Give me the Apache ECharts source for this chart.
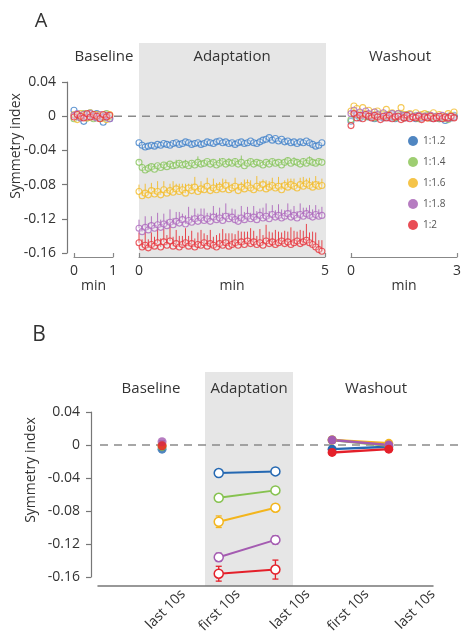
<!DOCTYPE html>
<html>
<head>
<meta charset="utf-8">
<script src="https://cdn.jsdelivr.net/npm/echarts@6/dist/echarts.min.js"></script>
<style>
  html, body { margin: 0; padding: 0; background: #fff; }
  #chart { width: 464px; height: 639px; }
</style>
</head>
<body>
<div id="chart"></div>
<script>
// ---- data ----
var ratioNames = ['1:1.2', '1:1.4', '1:1.6', '1:1.8', '1:2'];
var sampleSec = 5; // one point every 5 s

// panel A, baseline (last minute)
var blueBase = [0.007,0.001,-0.002,-0.006,0.002,0.004,-0.001,0.003,-0.002,-0.007,0.001,-0.003];
var greenBase = [-0.003,0.002,-0.001,0.003,-0.002,0.001,-0.003,0.002,0.000,-0.002,0.003,-0.001];
var yellowBase = [0.002,-0.004,0.003,0.000,-0.002,0.004,-0.001,0.002,-0.003,0.001,-0.004,0.002];
var purpleBase = [0.001,0.003,-0.002,0.002,-0.001,0.003,0.000,-0.002,0.002,-0.001,0.001,-0.003];
var redBase = [-0.001,0.002,0.000,-0.002,0.003,-0.001,0.002,0.000,-0.003,0.002,-0.001,0.001];

// panel A, adaptation (5 min)
var blueAdapt = [
  -0.031,-0.034,-0.036,-0.035,-0.034,-0.035,-0.033,-0.034,-0.032,-0.033,
  -0.034,-0.032,-0.031,-0.033,-0.032,-0.030,-0.031,-0.033,-0.032,-0.031,
  -0.033,-0.032,-0.030,-0.031,-0.032,-0.030,-0.029,-0.031,-0.030,-0.032,
  -0.031,-0.033,-0.031,-0.030,-0.032,-0.031,-0.029,-0.031,-0.032,-0.030,
  -0.028,-0.027,-0.025,-0.028,-0.026,-0.029,-0.027,-0.030,-0.029,-0.031,
  -0.030,-0.032,-0.030,-0.031,-0.029,-0.031,-0.033,-0.035,-0.034,-0.031];
var greenAdapt = [
  -0.054,-0.060,-0.063,-0.061,-0.059,-0.062,-0.058,-0.060,-0.057,-0.059,
  -0.056,-0.058,-0.057,-0.055,-0.057,-0.056,-0.058,-0.055,-0.057,-0.054,
  -0.056,-0.055,-0.053,-0.056,-0.054,-0.057,-0.055,-0.053,-0.056,-0.054,
  -0.055,-0.053,-0.056,-0.054,-0.058,-0.055,-0.053,-0.056,-0.054,-0.055,
  -0.057,-0.054,-0.056,-0.053,-0.055,-0.054,-0.057,-0.054,-0.052,-0.055,
  -0.053,-0.054,-0.056,-0.053,-0.055,-0.052,-0.054,-0.055,-0.053,-0.054];
var yellowAdapt = [
  -0.088,-0.093,-0.090,-0.092,-0.087,-0.091,-0.088,-0.092,-0.086,-0.090,
  -0.087,-0.089,-0.085,-0.088,-0.086,-0.090,-0.084,-0.087,-0.083,-0.088,
  -0.085,-0.086,-0.082,-0.087,-0.084,-0.086,-0.083,-0.085,-0.081,-0.086,
  -0.084,-0.082,-0.087,-0.083,-0.085,-0.081,-0.084,-0.086,-0.082,-0.084,
  -0.080,-0.085,-0.083,-0.081,-0.084,-0.082,-0.086,-0.081,-0.083,-0.080,
  -0.082,-0.084,-0.080,-0.082,-0.079,-0.081,-0.083,-0.080,-0.082,-0.081];
var purpleAdapt = [
  -0.131,-0.135,-0.130,-0.133,-0.128,-0.131,-0.127,-0.130,-0.126,-0.128,
  -0.124,-0.127,-0.123,-0.125,-0.121,-0.126,-0.122,-0.124,-0.120,-0.123,
  -0.119,-0.122,-0.120,-0.123,-0.118,-0.121,-0.119,-0.122,-0.117,-0.120,
  -0.118,-0.121,-0.123,-0.119,-0.121,-0.117,-0.120,-0.118,-0.121,-0.116,
  -0.119,-0.117,-0.120,-0.115,-0.118,-0.116,-0.119,-0.117,-0.114,-0.118,
  -0.116,-0.119,-0.115,-0.117,-0.114,-0.116,-0.118,-0.115,-0.117,-0.116];
var redAdapt = [
  -0.148,-0.153,-0.151,-0.154,-0.150,-0.152,-0.148,-0.153,-0.147,-0.151,
  -0.146,-0.152,-0.149,-0.153,-0.150,-0.148,-0.152,-0.149,-0.153,-0.150,
  -0.151,-0.148,-0.152,-0.149,-0.151,-0.153,-0.149,-0.151,-0.148,-0.152,
  -0.150,-0.148,-0.151,-0.147,-0.150,-0.146,-0.149,-0.147,-0.150,-0.148,
  -0.151,-0.146,-0.149,-0.147,-0.150,-0.148,-0.146,-0.149,-0.147,-0.150,
  -0.148,-0.146,-0.149,-0.147,-0.145,-0.148,-0.150,-0.153,-0.156,-0.158];

// upward error bars during adaptation (blue has none visible)
var greenAdaptErr = [
  0.003,0.004,0.002,0.005,0.003,0.006,0.002,0.004,0.003,0.005,
  0.002,0.004,0.006,0.003,0.002,0.005,0.004,0.003,0.002,0.007,
  0.003,0.004,0.002,0.005,0.003,0.002,0.006,0.004,0.003,0.005,
  0.002,0.004,0.003,0.008,0.002,0.004,0.003,0.005,0.002,0.004,
  0.003,0.002,0.005,0.003,0.004,0.002,0.006,0.003,0.004,0.002,
  0.005,0.003,0.002,0.004,0.003,0.005,0.002,0.004,0.003,0.002];
var yellowAdaptErr = [
  0.008,0.006,0.011,0.005,0.009,0.007,0.012,0.006,0.010,0.005,
  0.008,0.013,0.006,0.009,0.007,0.011,0.005,0.008,0.012,0.006,
  0.009,0.007,0.010,0.005,0.011,0.008,0.006,0.012,0.007,0.009,
  0.005,0.010,0.008,0.006,0.011,0.007,0.009,0.005,0.012,0.008,
  0.006,0.010,0.007,0.009,0.005,0.011,0.008,0.006,0.010,0.007,
  0.009,0.005,0.008,0.011,0.006,0.009,0.007,0.010,0.006,0.008];
var purpleAdaptErr = [
  0.010,0.007,0.013,0.008,0.011,0.006,0.014,0.009,0.012,0.007,
  0.015,0.008,0.011,0.013,0.007,0.010,0.016,0.008,0.012,0.009,
  0.011,0.014,0.007,0.010,0.013,0.008,0.012,0.009,0.015,0.007,
  0.010,0.012,0.008,0.014,0.009,0.011,0.007,0.013,0.010,0.008,
  0.012,0.015,0.009,0.011,0.008,0.013,0.010,0.007,0.012,0.009,
  0.011,0.008,0.013,0.010,0.007,0.012,0.009,0.011,0.008,0.010];
var redAdaptErr = [
  0.012,0.009,0.016,0.010,0.014,0.011,0.018,0.010,0.015,0.012,
  0.020,0.011,0.016,0.013,0.010,0.017,0.012,0.015,0.010,0.014,
  0.018,0.011,0.013,0.016,0.010,0.014,0.012,0.019,0.011,0.015,
  0.013,0.010,0.017,0.012,0.015,0.011,0.018,0.013,0.010,0.016,
  0.012,0.019,0.014,0.011,0.017,0.013,0.010,0.015,0.012,0.020,
  0.014,0.011,0.016,0.013,0.019,0.012,0.015,0.017,0.011,0.013];

// panel A, washout (3 min)
var blueWash = [
  -0.006,0.002,0.001,-0.002,0.003,0.000,-0.001,0.002,-0.003,
  0.001,0.000,-0.002,0.002,-0.001,0.001,-0.003,0.000,0.002,
  -0.002,0.001,-0.001,0.000,-0.003,0.001,-0.002,0.000,0.001,
  -0.002,-0.001,0.000,-0.003,-0.001,-0.005,0.000,-0.002,0.001];
var greenWash = [
  -0.004,0.004,0.002,0.000,0.003,-0.001,0.002,0.001,-0.002,
  0.003,0.000,0.002,-0.001,0.001,0.003,-0.002,0.001,0.000,
  -0.002,0.002,0.000,-0.001,0.001,-0.003,0.000,-0.001,0.002,
  -0.002,0.000,-0.001,-0.003,0.000,-0.002,-0.004,0.001,-0.001];
var yellowWash = [
  0.006,0.012,0.009,0.004,0.010,0.003,0.007,0.002,0.005,
  0.006,0.001,0.003,0.008,0.001,0.004,0.000,0.003,0.010,
  0.002,-0.001,0.003,0.000,0.004,-0.001,0.002,0.003,-0.002,
  0.001,0.004,-0.001,0.002,0.000,-0.002,0.003,0.001,0.005];
var purpleWash = [
  0.003,0.007,0.002,0.005,0.001,0.006,0.003,0.000,0.005,
  0.002,-0.001,0.004,0.001,-0.002,0.003,0.000,0.003,-0.001,
  0.001,-0.002,0.002,-0.001,0.000,0.001,-0.002,0.000,-0.001,
  0.001,-0.003,0.000,-0.002,0.001,-0.001,-0.003,0.000,-0.001];
var redWash = [
  -0.011,0.003,-0.002,0.001,-0.003,0.002,0.000,-0.002,0.001,
  -0.001,-0.004,0.000,-0.002,0.001,-0.003,-0.001,0.000,-0.004,
  -0.002,0.001,-0.003,-0.001,-0.002,0.000,-0.004,-0.001,-0.002,
  0.000,-0.003,-0.002,0.000,-0.003,-0.001,-0.002,0.000,-0.002];

// panel B: baseline last 10s, adaptation first/last 10s, washout first/last 10s
var phaseLabels = ['last 10s', 'first 10s', 'last 10s', 'first 10s', 'last 10s'];
var blueB   = [-0.005, -0.034, -0.032, -0.005, -0.002];
var greenB  = [-0.002, -0.064, -0.055,  0.006, -0.001];
var yellowB = [ 0.000, -0.093, -0.076,  0.006,  0.002];
var purpleB = [ 0.004, -0.136, -0.115,  0.006,  0.000];
var redB    = [-0.001, -0.156, -0.151, -0.009, -0.005];
var blueBErr   = [0.001, 0.002, 0.002, 0.002, 0.001];
var greenBErr  = [0.001, 0.002, 0.002, 0.002, 0.001];
var yellowBErr = [0.001, 0.007, 0.004, 0.002, 0.002];
var purpleBErr = [0.001, 0.005, 0.005, 0.004, 0.002];
var redBErr    = [0.001, 0.009, 0.0115, 0.003, 0.002];

var yTicks = [0.04, 0, -0.04, -0.08, -0.12, -0.16];

// ---- styles ----
var colsA = ['#3f7fc8', '#88c45e', '#f2bb2b', '#ad69bd', '#e6333b'];
var colsB = ['#2468b2', '#86c24f', '#f3b51c', '#a45bb1', '#e4202a'];
var font = 'Open Sans';
var txt = '#333';

var baseSets = [blueBase, greenBase, yellowBase, purpleBase, redBase];
var adaptSets = [blueAdapt, greenAdapt, yellowAdapt, purpleAdapt, redAdapt];
var adaptErrSets = [null, greenAdaptErr, yellowAdaptErr, purpleAdaptErr, redAdaptErr];
var washSets = [blueWash, greenWash, yellowWash, purpleWash, redWash];
var bSets = [blueB, greenB, yellowB, purpleB, redB];
var bErrSets = [blueBErr, greenBErr, yellowBErr, purpleBErr, redBErr];

function timePoints(vals) {
  return vals.map(function (v, i) { return [i * sampleSec / 60, v]; });
}
function errPoints(vals, errs) {
  return vals.map(function (v, i) { return [i * sampleSec / 60, v, errs[i]]; });
}
function yFmt(v) {
  if (Math.abs(v) < 1e-9) return '0';
  return v.toFixed(2);
}

var yMin = yTicks[yTicks.length - 1], yMax = yTicks[0], yStep = 0.04;

var chart = echarts.init(document.getElementById('chart'));

var grids = [
  { left: 74, top: 82, width: 39, height: 171 },   // A baseline
  { left: 139, top: 82, width: 186, height: 171 }, // A adaptation
  { left: 351, top: 82, width: 110, height: 171 }, // A washout
  { left: 72, top: 82, width: 390, height: 171 },  // A zero line
  { left: 98, top: 412, width: 335, height: 165 }, // B
  { left: 100, top: 412, width: 362, height: 165 } // B zero line
];

function bracketAxis(gi, max) {
  return {
    type: 'value', gridIndex: gi, min: 0, max: max, interval: max, offset: 4,
    name: 'min', nameLocation: 'middle', nameGap: 22,
    nameTextStyle: { fontFamily: font, fontSize: 14, color: txt },
    axisLine: { show: true, onZero: false, lineStyle: { color: '#888', width: 1.2 } },
    axisTick: { show: true, inside: true, length: 4, lineStyle: { color: '#888', width: 1.2 } },
    axisLabel: { fontFamily: font, fontSize: 14, color: txt, margin: 7 },
    splitLine: { show: false }
  };
}
function hiddenY(gi) {
  return { type: 'value', gridIndex: gi, min: yMin, max: yMax, show: false, splitLine: { show: false } };
}
function shownY(gi, off) {
  return {
    type: 'value', gridIndex: gi, min: yMin, max: yMax, interval: yStep, offset: off,
    axisLine: { show: true, onZero: false, lineStyle: { color: '#777', width: 1.2 } },
    axisTick: { show: true, length: 5, lineStyle: { color: '#777', width: 1.2 } },
    axisLabel: { fontFamily: font, fontSize: 14, color: txt, margin: 11, formatter: yFmt },
    splitLine: { show: false }
  };
}

// label anchors along panel B value axis (phase k sits at x = k+1)
var labelAt = [1.37, 2.34, 3.57, 4.61, 5.78];

var xAxes = [
  bracketAxis(0, 1),
  bracketAxis(1, 5),
  bracketAxis(2, 3),
  { type: 'value', gridIndex: 3, min: 0, max: 1, show: false },
  {
    type: 'value', gridIndex: 4, min: -0.13, max: 5.78, offset: 9,
    axisLine: { show: true, onZero: false, lineStyle: { color: '#777', width: 1.5 } },
    axisTick: { show: false },
    splitLine: { show: false },
    axisLabel: {
      customValues: labelAt, rotate: 45, margin: 6,
      fontFamily: font, fontSize: 14, color: txt,
      formatter: function (v) {
        for (var i = 0; i < labelAt.length; i++) if (Math.abs(labelAt[i] - v) < 1e-6) return phaseLabels[i];
        return '';
      }
    }
  },
  { type: 'value', gridIndex: 5, min: 0, max: 1, show: false }
];
var yAxes = [shownY(0, 7), hiddenY(1), hiddenY(2), hiddenY(3), shownY(4, 7), hiddenY(5)];

var series = [];

// dashed zero lines
[3, 5].forEach(function (gi) {
  series.push({
    type: 'line', xAxisIndex: gi, yAxisIndex: gi, data: [[0, 0], [1, 0]],
    symbol: 'none', silent: true, z: 1,
    lineStyle: { color: '#8a8a8a', width: 1.5, type: [8, 6] }
  });
});

function upErrRender(color) {
  return function (params, api) {
    var p0 = api.coord([api.value(0), api.value(1)]);
    var p1 = api.coord([api.value(0), api.value(1) + api.value(2)]);
    return { type: 'line', shape: { x1: p0[0], y1: p0[1], x2: p1[0], y2: p1[1] },
      style: { stroke: color, lineWidth: 1, opacity: 0.9 } };
  };
}
function capErrRender(color) {
  return function (params, api) {
    var x = api.value(0), y = api.value(1), e = api.value(2);
    var lo = api.coord([x, y - e]), hi = api.coord([x, y + e]);
    var st = { stroke: color, lineWidth: 1.3 };
    return { type: 'group', children: [
      { type: 'line', shape: { x1: lo[0], y1: lo[1], x2: hi[0], y2: hi[1] }, style: st },
      { type: 'line', shape: { x1: lo[0] - 3, y1: lo[1], x2: lo[0] + 3, y2: lo[1] }, style: st },
      { type: 'line', shape: { x1: hi[0] - 3, y1: hi[1], x2: hi[0] + 3, y2: hi[1] }, style: st }
    ] };
  };
}

function hollowScatter(name, gi, data, col) {
  return {
    name: name, type: 'scatter', xAxisIndex: gi, yAxisIndex: gi, data: data,
    symbol: 'circle', symbolSize: 6, z: 3,
    itemStyle: { color: 'rgba(255,255,255,0.35)', borderColor: col, borderWidth: 1.1 }
  };
}

// panel A
for (var c = 0; c < 5; c++) {
  var nm = ratioNames[c], col = colsA[c];
  series.push(hollowScatter(nm, 0, timePoints(baseSets[c]), col));
  if (adaptErrSets[c]) {
    series.push({
      name: nm, type: 'custom', xAxisIndex: 1, yAxisIndex: 1, z: 2,
      renderItem: upErrRender(col), data: errPoints(adaptSets[c], adaptErrSets[c]),
      encode: { x: 0, y: 1 }
    });
  }
  series.push(hollowScatter(nm, 1, timePoints(adaptSets[c]), col));
  series.push(hollowScatter(nm, 2, timePoints(washSets[c]), col));
}

// panel B
for (var k = 0; k < 5; k++) {
  var nmB = ratioNames[k], cb = colsB[k], v = bSets[k], e = bErrSets[k];
  series.push({
    name: nmB, type: 'custom', xAxisIndex: 4, yAxisIndex: 4, z: 2,
    renderItem: capErrRender(cb),
    data: v.map(function (val, i) { return [i + 1, val, e[i]]; }),
    encode: { x: 0, y: 1 }
  });
  series.push({
    name: nmB, type: 'scatter', xAxisIndex: 4, yAxisIndex: 4, z: 4,
    data: [[1, v[0]]], symbol: 'circle', symbolSize: 9,
    itemStyle: { color: cb }
  });
  series.push({
    name: nmB, type: 'line', xAxisIndex: 4, yAxisIndex: 4, z: 3,
    data: [[2, v[1]], [3, v[2]]], symbol: 'circle', symbolSize: 9, showAllSymbol: true,
    lineStyle: { color: cb, width: 2 },
    itemStyle: { color: '#fff', borderColor: cb, borderWidth: 1.5 }
  });
  series.push({
    name: nmB, type: 'line', xAxisIndex: 4, yAxisIndex: 4, z: 3,
    data: [[4, v[3]], [5, v[4]]], symbol: 'circle', symbolSize: 9, showAllSymbol: true,
    lineStyle: { color: cb, width: 2.5 },
    itemStyle: { color: cb }
  });
}

function label(text, x, y, size, rot) {
  return {
    type: 'text', x: x, y: y, rotation: rot || 0, z: 10,
    style: { text: text, fontFamily: font, fontSize: size, fill: txt, align: 'center', verticalAlign: 'middle' }
  };
}

var option = {
  animation: false,
  grid: grids,
  xAxis: xAxes,
  yAxis: yAxes,
  legend: {
    orient: 'vertical', left: 403, top: 131, itemWidth: 10, itemHeight: 10, itemGap: 11,
    icon: 'circle', selectedMode: false,
    textStyle: { fontFamily: font, fontSize: 10, color: '#555' },
    data: ratioNames.map(function (n, i) {
      return { name: n, itemStyle: { color: colsB[i], borderWidth: 0 } };
    })
  },
  graphic: [
    { type: 'rect', z: -10, shape: { x: 139, y: 43, width: 187, height: 214 }, style: { fill: '#e6e6e6' } },
    { type: 'rect', z: -10, shape: { x: 205, y: 372, width: 88, height: 214 }, style: { fill: '#e6e6e6' } },
    label('A', 41, 21, 20),
    label('B', 39, 335, 21),
    label('Baseline', 104, 57, 15),
    label('Adaptation', 232, 57, 15),
    label('Washout', 400, 57, 15),
    label('Baseline', 151, 389, 15),
    label('Adaptation', 249, 389, 15),
    label('Washout', 376, 389, 15),
    label('Symmetry index', 16, 146, 14, Math.PI / 2),
    label('Symmetry index', 31, 470, 14, Math.PI / 2)
  ],
  series: series
};

chart.setOption(option);
</script>
</body>
</html>
